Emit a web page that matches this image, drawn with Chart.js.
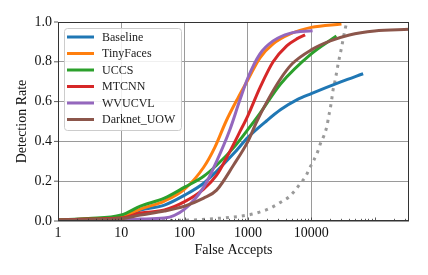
<!DOCTYPE html>
<html lang="en">
<head>
    <meta charset="UTF-8">
    <title>Detection Rate vs False Accepts</title>
    <style>
        body {
            margin: 0;
            padding: 0;
            background: #fff;
        }
        canvas {
            display: block;
        }
    </style>
</head>
<body>
    <canvas id="roc" width="428" height="275" style="width:428px;height:275px"></canvas>

    <script src="https://cdn.jsdelivr.net/npm/chart.js"></script>
    <script>
        // series names and colours
        const seriesNames = ['Baseline', 'TinyFaces', 'UCCS', 'MTCNN', 'WVUCVL', 'Darknet_UOW'];
        const seriesColors = ['#1f77b4', '#ff7f0e', '#2ca02c', '#d62728', '#9467bd', '#8c564b'];

        // false accepts / detection rate
        const baselineFA = [1, 3, 10, 20, 48, 100, 200, 320, 600, 1000, 2000, 3300, 6000, 10000, 30000, 66000];
        const baselineDR = [0.005, 0.01, 0.02, 0.055, 0.08, 0.13, 0.19, 0.25, 0.34, 0.42, 0.505, 0.56, 0.61, 0.64, 0.70, 0.74];

        const tinyFacesFA = [1, 3, 10, 20, 48, 100, 200, 300, 450, 700, 1000, 1550, 2500, 4650, 10000, 30000];
        const tinyFacesDR = [0.005, 0.01, 0.02, 0.06, 0.10, 0.16, 0.27, 0.37, 0.50, 0.62, 0.71, 0.82, 0.89, 0.94, 0.973, 0.99];

        const uccsFA = [1, 3, 10, 20, 48, 100, 200, 320, 600, 1000, 1500, 3300, 10000, 25000];
        const uccsDR = [0.005, 0.012, 0.03, 0.075, 0.115, 0.17, 0.225, 0.28, 0.37, 0.46, 0.535, 0.69, 0.84, 0.93];

        const mtcnnFA = [1, 3, 10, 20, 48, 100, 200, 320, 500, 750, 1000, 1550, 2500, 4100, 5900, 8000];
        const mtcnnDR = [0.005, 0.01, 0.015, 0.04, 0.055, 0.097, 0.16, 0.23, 0.34, 0.45, 0.53, 0.67, 0.80, 0.88, 0.915, 0.935];

        const wvucvlFA = [1, 10, 20, 48, 100, 200, 320, 520, 750, 1000, 1550, 2500, 4600, 10500];
        const wvucvlDR = [0.002, 0.005, 0.01, 0.015, 0.06, 0.17, 0.30, 0.46, 0.61, 0.72, 0.84, 0.905, 0.943, 0.956];

        const darknetFA = [1, 10, 20, 48, 100, 200, 320, 590, 1000, 1380, 2000, 3200, 5000, 10000, 20000, 40000, 100000, 350000];
        const darknetDR = [0.005, 0.012, 0.03, 0.05, 0.075, 0.115, 0.155, 0.28, 0.40, 0.50, 0.60, 0.71, 0.79, 0.86, 0.905, 0.935, 0.955, 0.963];

        // grey dotted reference curve
        const refFA = [1, 10, 100, 300, 1000, 1900, 2500, 3400, 4500, 5500, 6800, 8300, 9500, 11000, 12700, 14000, 15900,
                       17700, 18800, 20000, 21100, 22100, 23600, 24900, 26400, 28100, 30300, 32400, 34500, 36500];
        const refDR = [0, 0.001, 0.004, 0.012, 0.03, 0.055, 0.072, 0.097, 0.122, 0.152, 0.19, 0.228, 0.268, 0.306, 0.35, 0.39, 0.43,
                       0.477, 0.524, 0.566, 0.613, 0.658, 0.70, 0.739, 0.784, 0.826, 0.876, 0.926, 0.968, 1.0];

        // axis ticks
        const xTickValues = [1, 10, 100, 1000, 10000];
        const xTickLabels = ['1', '10', '100', '1000', '10000'];
        const yTickValues = [0, 0.2, 0.4, 0.6, 0.8, 1.0];

        const seriesFA = [baselineFA, tinyFacesFA, uccsFA, mtcnnFA, wvucvlFA, darknetFA];
        const seriesDR = [baselineDR, tinyFacesDR, uccsDR, mtcnnDR, wvucvlDR, darknetDR];

        const toPoints = (xs, ys) => xs.map((x, i) => ({ x: x, y: ys[i] }));

        const datasets = seriesNames.map((name, i) => ({
            label: name,
            data: toPoints(seriesFA[i], seriesDR[i]),
            borderColor: seriesColors[i],
            backgroundColor: seriesColors[i],
            order: 10 - i
        }));
        datasets.push({
            label: 'reference',
            data: toPoints(refFA, refDR),
            borderColor: '#9a9a9a',
            borderDash: [3, 5],
            order: 20
        });

        const serif = "'Liberation Serif', 'DejaVu Serif', serif";
        const gridColor = '#9a9a9a';

        // frame, minor ticks and the legend box
        const decorations = {
            id: 'decorations',
            afterDraw(chart) {
                const c = chart.ctx;
                const a = chart.chartArea;
                const xs = chart.scales.x;
                const ys = chart.scales.y;
                c.save();

                // minor ticks on the log axis, pointing inwards
                c.strokeStyle = '#333';
                c.lineWidth = 0.8;
                for (let k = 0; k <= 5; k++) {
                    for (let m = 1; m <= 9; m++) {
                        const v = m * Math.pow(10, k);
                        if (v > xs.max) continue;
                        const px = Math.round(xs.getPixelForValue(v)) + 0.5;
                        const len = m === 1 ? 3.5 : 2.2;
                        c.beginPath();
                        c.moveTo(px, a.bottom);
                        c.lineTo(px, a.bottom - len);
                        c.stroke();
                    }
                }
                // y ticks, outwards
                yTickValues.forEach(v => {
                    const py = ys.getPixelForValue(v);
                    c.beginPath();
                    c.moveTo(a.left - 4, py);
                    c.lineTo(a.left, py);
                    c.stroke();
                });

                // frame
                c.strokeStyle = '#333';
                c.lineWidth = 1;
                c.strokeRect(Math.round(a.left) + 0.5, Math.round(a.top) + 0.5,
                    Math.round(a.right - a.left) - 1, Math.round(a.bottom - a.top) - 1);

                // legend
                const lx = a.left + 6, ly = a.top + 6, lw = 117, lh = 102;
                c.beginPath();
                c.roundRect(lx + 0.5, ly + 0.5, lw, lh, 3);
                c.fillStyle = 'rgba(255,255,255,0.85)';
                c.fill();
                c.strokeStyle = '#cccccc';
                c.lineWidth = 1;
                c.stroke();

                c.font = '12px ' + serif;
                c.textBaseline = 'middle';
                c.textAlign = 'left';
                seriesNames.forEach((name, i) => {
                    const y = ly + 9 + i * 16.5;
                    c.strokeStyle = seriesColors[i];
                    c.lineWidth = 3;
                    c.beginPath();
                    c.moveTo(lx + 3, y);
                    c.lineTo(lx + 30, y);
                    c.stroke();
                    c.fillStyle = '#222';
                    c.fillText(name, lx + 38, y + 0.5);
                });
                c.restore();
            }
        };

        const ctx = document.getElementById('roc').getContext('2d');
        new Chart(ctx, {
            type: 'line',
            data: { datasets: datasets },
            options: {
                responsive: false,
                animation: false,
                devicePixelRatio: 1,
                layout: { padding: { top: 22, right: 19, left: 0, bottom: 0 } },
                plugins: {
                    legend: { display: false },
                    tooltip: { enabled: false }
                },
                elements: {
                    point: { radius: 0 },
                    line: { borderWidth: 3, cubicInterpolationMode: 'monotone', borderCapStyle: 'butt', fill: false }
                },
                scales: {
                    x: {
                        type: 'logarithmic',
                        min: 1,
                        max: 350000,
                        afterBuildTicks: s => { s.ticks = xTickValues.map(v => ({ value: v })); },
                        afterFit: s => { s.height = 54; },
                        ticks: {
                            autoSkip: false,
                            maxRotation: 0,
                            padding: 4,
                            color: '#111',
                            font: { family: serif, size: 14 },
                            callback: v => xTickLabels[xTickValues.indexOf(v)] || ''
                        },
                        grid: { color: gridColor, lineWidth: 1, drawTicks: false },
                        border: { display: false },
                        title: {
                            display: true,
                            text: 'False Accepts',
                            color: '#111',
                            font: { family: serif, size: 14 },
                            padding: { top: 0, bottom: 16.5 }
                        }
                    },
                    y: {
                        min: 0,
                        max: 1,
                        afterBuildTicks: s => { s.ticks = yTickValues.map(v => ({ value: v })); },
                        afterFit: s => { s.width = 58; },
                        ticks: {
                            padding: 6,
                            color: '#111',
                            font: { family: serif, size: 14 },
                            callback: v => v.toFixed(1)
                        },
                        grid: { color: gridColor, lineWidth: 1, drawTicks: false },
                        border: { display: false },
                        title: {
                            display: true,
                            text: 'Detection Rate',
                            color: '#111',
                            font: { family: serif, size: 14 },
                            padding: { top: 13.5, bottom: 0 }
                        }
                    }
                }
            },
            plugins: [decorations]
        });
    </script>
</body>
</html>
